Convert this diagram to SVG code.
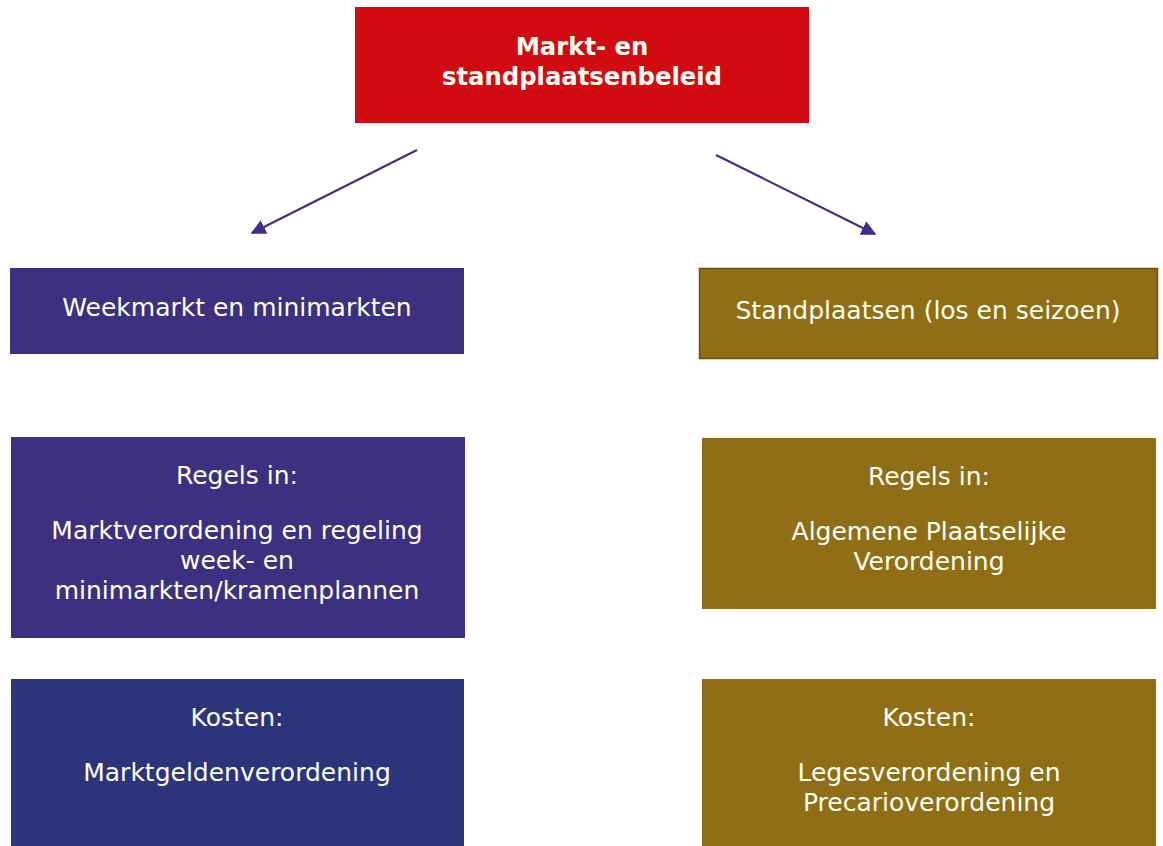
<svg xmlns="http://www.w3.org/2000/svg" width="1163" height="846" viewBox="0 0 1163 846">
<style>
text{font-family:"DejaVu Sans",Verdana,sans-serif;font-size:25px;fill:#FFFFF4;text-anchor:middle}
.title{font-weight:bold;font-size:24.3px}
.conn{stroke:#3B2F8A;stroke-width:2.2;fill:none}
.purple{fill:#3D3080}
.blue{fill:#2C347B}
.gold{fill:#8F6E15}
.red{fill:#D20A11}
</style>
<defs>
<marker id="ah" viewBox="0 0 10 10" refX="9" refY="5" markerWidth="15" markerHeight="15" orient="auto" markerUnits="userSpaceOnUse">
<path d="M0,0 L10,5 L0,10 z" fill="#3B2F8A"/>
</marker>
</defs>
<rect width="1163" height="846" fill="#FFFFFF"/>
<g id="connectors">
<line class="conn" x1="417" y1="150" x2="252" y2="233" marker-end="url(#ah)"/>
<line class="conn" x1="716" y1="155" x2="875" y2="234" marker-end="url(#ah)"/>
</g>
<g id="top">
<rect class="red" x="355" y="7" width="454" height="116"/>
<text class="title" x="582" y="55">Markt- en</text>
<text class="title" x="582" y="85">standplaatsenbeleid</text>
</g>
<g id="weekmarkt">
<rect class="purple" x="10" y="268" width="454" height="86"/>
<text x="237" y="316">Weekmarkt en minimarkten</text>
</g>
<g id="standplaatsen">
<rect class="gold" x="699.5" y="268.5" width="458" height="90" stroke="#6A5110" stroke-width="1.5"/>
<text x="928" y="319">Standplaatsen (los en seizoen)</text>
</g>
<g id="regels-left">
<rect class="purple" x="11" y="437" width="454" height="201"/>
<text x="237" y="484">Regels in:</text>
<text x="237" y="539">Marktverordening en regeling</text>
<text x="237" y="569">week- en</text>
<text x="237" y="599">minimarkten/kramenplannen</text>
</g>
<g id="regels-right">
<rect class="gold" x="702" y="438" width="454" height="171"/>
<text x="929" y="485">Regels in:</text>
<text x="929" y="540">Algemene Plaatselijke</text>
<text x="929" y="570">Verordening</text>
</g>
<g id="kosten-left">
<rect class="blue" x="11" y="679" width="453" height="167"/>
<text x="237" y="726">Kosten:</text>
<text x="237" y="781">Marktgeldenverordening</text>
</g>
<g id="kosten-right">
<rect class="gold" x="702" y="679" width="454" height="167"/>
<text x="929" y="726">Kosten:</text>
<text x="929" y="781">Legesverordening en</text>
<text x="929" y="811">Precarioverordening</text>
</g>
</svg>
